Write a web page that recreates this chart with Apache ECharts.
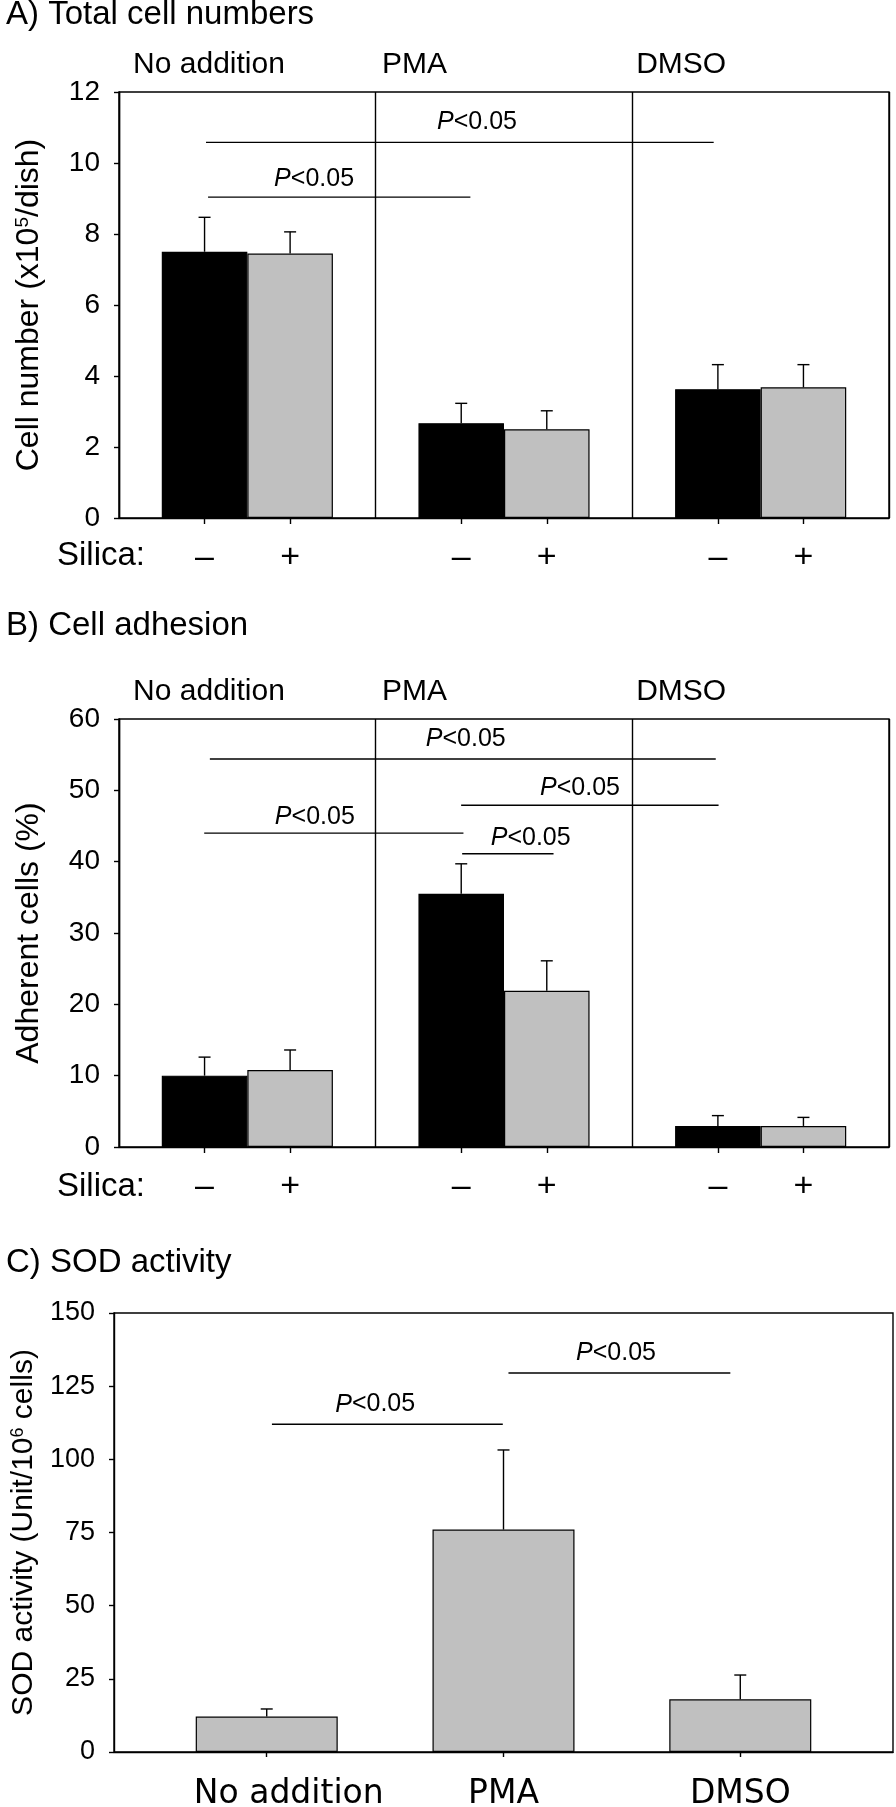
<!DOCTYPE html>
<html>
<head>
<meta charset="utf-8">
<script src="https://cdn.jsdelivr.net/npm/echarts@6/dist/echarts.min.js"></script>
<style>html,body{margin:0;padding:0;background:#fff}#c{width:896px;height:1807px}</style>
</head>
<body>
<div id="c"></div>
<script>
// ---------- data ----------
const groups = ['No addition', 'PMA', 'DMSO'];
const silicaLabels = ['–', '+'];

// A) Total cell numbers (x10^5/dish)
const cellBlack   = [7.50, 2.67, 3.63];
const cellBlackSD = [0.97, 0.56, 0.69];
const cellGray    = [7.45, 2.50, 3.68];
const cellGraySD  = [0.61, 0.52, 0.64];

// B) Cell adhesion (%)
const adhBlack   = [10.0, 35.5, 2.95];
const adhBlackSD = [2.6, 4.2, 1.45];
const adhGray    = [10.8, 21.9, 2.95];
const adhGraySD  = [2.8, 4.2, 1.2];

// C) SOD activity (Unit/10^6 cells)
const sod   = [12.1, 76.0, 18.0];
const sodSD = [2.6, 27.2, 8.3];

// significance brackets: [from, to, level, labelX, labelY]
const sigA = [[0.339, 2.317, 10.58, 1.395, 11.15], [0.347, 1.369, 9.04, 0.76, 9.55]];
const sigB = [[0.354, 2.325, 54.4, 1.351, 57.2], [1.333, 2.336, 47.9, 1.796, 50.3],
              [0.332, 1.342, 44.0, 0.763, 46.2], [1.337, 1.693, 41.1, 1.604, 43.3]];
const sigC = [[0.022, 0.997, 112, 0.458, 118.7], [1.021, 1.958, 129.5, 1.475, 136.3]];
const sigText = 'P<0.05';

// ---------- layout / style ----------
const FONT = "'Liberation Sans', Arial, Helvetica, sans-serif";
const WIDE = "'DejaVu Sans', 'Liberation Sans', sans-serif";
const LW = 1.4;
const BLACK = '#000';
const GRAY = '#c0c0c0';
const groupLabelPos = [0.055, 1.025, 2.015];
const silicaTickPos = [1/3, 2/3, 4/3, 5/3, 7/3, 8/3];

const chart = echarts.init(document.getElementById('c'), null, {renderer: 'canvas'});

function gridDef(left, right, top, height) {
  return {left, right, top, height, show: true, borderColor: BLACK, borderWidth: LW,
          backgroundColor: 'transparent', outerBoundsMode: 'none', containLabel: false};
}

function barPanelXAxes(gi) {
  return [
    { // category axis for bars + section dividers
      type: 'category', gridIndex: gi, data: groups, position: 'bottom',
      axisLine: {show: true, onZero: false, lineStyle: {color: BLACK, width: LW}},
      axisTick: {show: false}, axisLabel: {show: false},
      splitLine: {show: true, interval: 0, lineStyle: {color: BLACK, width: LW}}
    },
    { // silica -/+ ticks and labels
      type: 'value', gridIndex: gi, min: 0, max: 3, position: 'bottom',
      axisLine: {show: false, onZero: false},
      axisTick: {show: true, inside: false, length: 6, customValues: silicaTickPos,
                 lineStyle: {color: BLACK, width: LW}},
      axisLabel: {show: true, customValues: silicaTickPos, margin: 40, verticalAlign: 'middle',
                  fontSize: 34, fontFamily: FONT, color: BLACK,
                  formatter: v => silicaLabels[Math.round((v % 1) * 3) - 1]},
      splitLine: {show: false}
    },
    { // group names on top
      type: 'value', gridIndex: gi, min: 0, max: 3, position: 'top',
      axisLine: {show: false, onZero: false}, axisTick: {show: false},
      axisLabel: {show: true, customValues: groupLabelPos, margin: 27, verticalAlign: 'middle',
                  align: 'left', fontSize: 30, fontFamily: FONT, color: BLACK,
                  formatter: v => groups[Math.floor(v)]},
      splitLine: {show: false}
    }
  ];
}

function yAxisDef(gi, max, interval, name, nameGap, nameSize, labelSize) {
  return {
    type: 'value', gridIndex: gi, min: 0, max, interval,
    name, nameLocation: 'middle', nameGap, nameRotate: 90,
    nameTextStyle: {fontSize: nameSize, fontFamily: FONT, color: BLACK,
      rich: {sup: {fontSize: Math.round(nameSize * 0.6), fontFamily: FONT, color: BLACK, verticalAlign: 'top'}}},
    axisLine: {show: true, onZero: false, lineStyle: {color: BLACK, width: LW}},
    axisTick: {show: true, inside: false, length: 5, lineStyle: {color: BLACK, width: LW}},
    axisLabel: {fontSize: labelSize, fontFamily: FONT, color: BLACK, margin: 19},
    splitLine: {show: false}
  };
}

function barSeries(xi, yi, data, color) {
  return {type: 'bar', xAxisIndex: xi, yAxisIndex: yi, data, silent: true,
          barGap: '0%', barCategoryGap: '33.33%',
          itemStyle: {color, borderColor: BLACK, borderWidth: 1.2}};
}

function errSeries(xi, yi, vals, sds, off) {
  return {
    type: 'custom', xAxisIndex: xi, yAxisIndex: yi, silent: true, z: 5,
    data: vals.map((v, i) => [i, v, sds[i]]),
    encode: {x: 0, y: 1},
    renderItem: (params, api) => {
      const i = api.value(0), v = api.value(1), s = api.value(2);
      const p0 = api.coord([i, v]);
      const p1 = api.coord([i, v + s]);
      const bw = off === 0 ? 0 : api.size([1, 0])[0];
      const x = p0[0] + off * bw;
      return {type: 'group', children: [
        {type: 'line', shape: {x1: x, y1: p0[1], x2: x, y2: p1[1]}, style: {stroke: BLACK, lineWidth: LW}},
        {type: 'line', shape: {x1: x - 6, y1: p1[1], x2: x + 6, y2: p1[1]}, style: {stroke: BLACK, lineWidth: LW}}
      ]};
    }
  };
}

function sigSeries(xi, yi, sig) {
  return {
    type: 'custom', xAxisIndex: xi, yAxisIndex: yi, silent: true, z: 6,
    data: sig, encode: {x: [0, 1, 3], y: [2, 4]},
    renderItem: (params, api) => {
      const a = api.coord([api.value(0), api.value(2)]);
      const b = api.coord([api.value(1), api.value(2)]);
      const l = api.coord([api.value(3), api.value(4)]);
      return {type: 'group', children: [
        {type: 'line', shape: {x1: a[0], y1: a[1], x2: b[0], y2: b[1]}, style: {stroke: BLACK, lineWidth: LW}},
        {type: 'text', style: {
          text: '{i|P}{n|' + sigText.slice(1) + '}', x: l[0], y: l[1], align: 'center', verticalAlign: 'middle',
          fill: BLACK, fontSize: 25, fontFamily: FONT,
          rich: {i: {fontStyle: 'italic', fontSize: 25, fontFamily: FONT, fill: BLACK, color: BLACK},
                 n: {fontSize: 25, fontFamily: FONT, fill: BLACK, color: BLACK}}
        }}
      ]};
    }
  };
}

const option = {
  backgroundColor: '#fff',
  animation: false,
  grid: [
    gridDef(119, 7, 92, 426),
    gridDef(119, 7, 719, 428),
    gridDef(114, 3, 1313, 439)
  ],
  xAxis: [
    ...barPanelXAxes(0),
    ...barPanelXAxes(1),
    {
      type: 'value', gridIndex: 2, min: -0.645, max: 2.645, position: 'bottom',
      axisLine: {show: true, onZero: false, lineStyle: {color: BLACK, width: LW}},
      axisTick: {show: true, inside: false, length: 5, customValues: [0, 1, 2], lineStyle: {color: BLACK, width: LW}},
      axisLabel: {show: true, customValues: [0, 1, 2], margin: 42, verticalAlign: 'middle',
                  fontSize: 33, fontFamily: WIDE, color: BLACK,
                  formatter: v => {
                    const k = Math.round(v);
                    return k === 0 ? '{s|' + groups[k] + '}' : groups[k];
                  },
                  rich: {s: {fontSize: 33, fontFamily: WIDE, color: BLACK, padding: [0, 0, 0, 44]}}},
      splitLine: {show: false}
    }
  ],
  yAxis: [
    yAxisDef(0, 12, 2, 'Cell number (x10{sup|5}/dish)', 74, 32, 28),
    yAxisDef(1, 60, 10, 'Adherent cells (%)', 74, 32, 28),
    yAxisDef(2, 150, 25, 'SOD activity (Unit/10{sup|6} cells)', 73, 30, 27)
  ],
  graphic: [
    {type: 'text', x: 6, y: 15, style: {text: 'A) Total cell numbers', fontSize: 33, fontFamily: FONT, fill: BLACK, verticalAlign: 'middle'}},
    {type: 'text', x: 6, y: 626, style: {text: 'B) Cell adhesion', fontSize: 33, fontFamily: FONT, fill: BLACK, verticalAlign: 'middle'}},
    {type: 'text', x: 6, y: 1263, style: {text: 'C) SOD activity', fontSize: 33, fontFamily: FONT, fill: BLACK, verticalAlign: 'middle'}},
    {type: 'text', x: 57, y: 556, style: {text: 'Silica:', fontSize: 33, fontFamily: FONT, fill: BLACK, verticalAlign: 'middle'}},
    {type: 'text', x: 57, y: 1187, style: {text: 'Silica:', fontSize: 33, fontFamily: FONT, fill: BLACK, verticalAlign: 'middle'}}
  ],
  series: [
    barSeries(0, 0, cellBlack, BLACK),
    barSeries(0, 0, cellGray, GRAY),
    errSeries(0, 0, cellBlack, cellBlackSD, -1/6),
    errSeries(0, 0, cellGray, cellGraySD, 1/6),
    sigSeries(1, 0, sigA),

    barSeries(3, 1, adhBlack, BLACK),
    barSeries(3, 1, adhGray, GRAY),
    errSeries(3, 1, adhBlack, adhBlackSD, -1/6),
    errSeries(3, 1, adhGray, adhGraySD, 1/6),
    sigSeries(4, 1, sigB),

    {type: 'bar', xAxisIndex: 6, yAxisIndex: 2, silent: true, barWidth: 142,
     data: sod.map((v, i) => [i, v]),
     itemStyle: {color: GRAY, borderColor: BLACK, borderWidth: 1.2}},
    errSeries(6, 2, sod, sodSD, 0),
    sigSeries(6, 2, sigC)
  ]
};
chart.setOption(option);
</script>
</body>
</html>
